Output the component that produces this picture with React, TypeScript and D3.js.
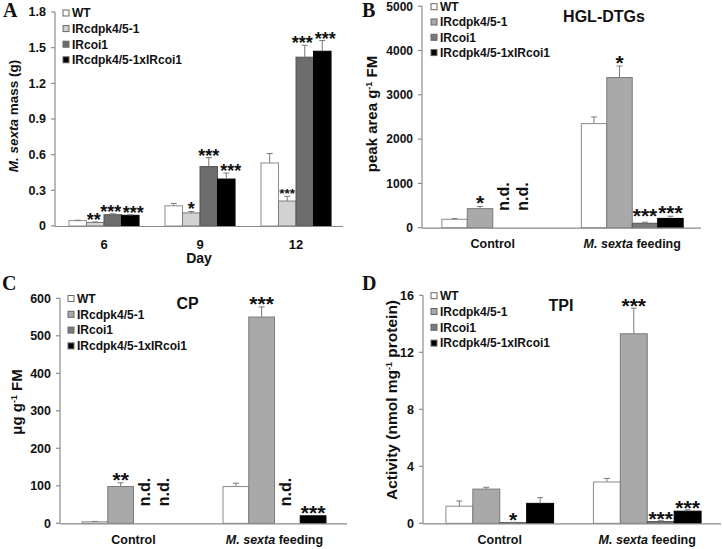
import React from 'react';
import * as d3 from 'd3';

// ---------- data ----------
const seriesNames = ['WT', 'IRcdpk4/5-1', 'IRcoi1', 'IRcdpk4/5-1xIRcoi1'];

// Panel A: larval mass (g) by day
const daysA = ['6', '9', '12'];
const massMean = [
  [0.045, 0.03, 0.095, 0.09],
  [0.17, 0.11, 0.5, 0.395],
  [0.53, 0.21, 1.42, 1.47],
];
const massErr = [
  [0.004, 0.004, 0.008, 0.005],
  [0.02, 0.012, 0.075, 0.05],
  [0.08, 0.04, 0.1, 0.09],
];
const massSig = [
  ['', '**', '***', '***'],
  ['', '*', '***', '***'],
  ['', '***', '***', '***'],
];
const ticksA = [0, 0.3, 0.6, 0.9, 1.2, 1.5, 1.8];

const treatments = ['Control', 'M. sexta feeding'];

// Panel B: HGL-DTGs
const hglMean = [
  [190, 430, 0, 0],
  [2350, 3390, 100, 210],
];
const hglErr = [
  [15, 50, 0, 0],
  [150, 260, 25, 50],
];
const hglSig = [
  ['', '*', 'n.d.', 'n.d.'],
  ['', '*', '***', '***'],
];
const ticksB = [0, 1000, 2000, 3000, 4000, 5000];

// Panel C: CP
const cpMean = [
  [4, 98, 0, 0],
  [98, 550, 0, 20],
];
const cpErr = [
  [1, 10, 0, 0],
  [9, 27, 0, 0],
];
const cpSig = [
  ['', '**', 'n.d.', 'n.d.'],
  ['', '***', 'n.d.', '***'],
];
const ticksC = [0, 100, 200, 300, 400, 500, 600];

// Panel D: TPI
const tpiMean = [
  [1.2, 2.4, 0.05, 1.4],
  [2.9, 13.3, 0.12, 0.85],
];
const tpiErr = [
  [0.37, 0.13, 0.02, 0.4],
  [0.25, 1.8, 0.06, 0.1],
];
const tpiSig = [
  ['', '', '*', ''],
  ['', '***', '***', '***'],
];
const ticksD = [0, 4, 8, 12, 16];

// ---------- styles ----------
const SANS = '"Liberation Sans", Arial, sans-serif';
const SERIF = '"Liberation Serif", "Times New Roman", serif';
const AXIS = '#8c8c8c';
const colorsA = ['#ffffff', '#d2d2d2', '#6c6c6c', '#000000'];
const colorsB = ['#ffffff', '#a9a9a9', '#7a7a7a', '#000000'];
const strokes = ['#8c8c8c', '#7a7a7a', '#555555', '#000000'];

function CatLabel({ label, x, y, size }: any) {
  if (label.startsWith('M. sexta')) {
    return (
      <text x={x} y={y} textAnchor="middle" fontFamily={SANS} fontWeight="bold" fontSize={size} fill="#111">
        <tspan fontStyle="italic">M. sexta</tspan>
        <tspan>{label.slice(8)}</tspan>
      </text>
    );
  }
  return (
    <text x={x} y={y} textAnchor="middle" fontFamily={SANS} fontWeight="bold" fontSize={size} fill="#111">
      {label}
    </text>
  );
}

function Panel({ cfg }: any) {
  const x = d3.scaleBand<string>().domain(cfg.groups).range([cfg.bandL, cfg.bandR]);
  const y = d3.scaleLinear().domain([cfg.ticks[0], cfg.ticks[cfg.ticks.length - 1]]).range([cfg.yBottom, cfg.yTop]);
  const gw = x.step() * 0.73;
  const inner = d3.scaleBand<string>().domain(seriesNames).range([-gw / 2, gw / 2]);
  const bw = inner.bandwidth();
  const fmt = cfg.fmt;

  return (
    <g>
      <text x={cfg.letterX} y={cfg.letterY} fontFamily={SERIF} fontWeight="bold" fontSize={20} fill="#111">
        {cfg.letter}
      </text>
      <line x1={cfg.axisL} x2={cfg.axisL} y1={y(cfg.ticks[0]) + 0.5} y2={y(cfg.ticks[cfg.ticks.length - 1])} stroke={AXIS} strokeWidth={1.2} />
      {cfg.ticks.map((t: number) => (
        <g key={t}>
          <line x1={cfg.axisL - 4} x2={cfg.axisL} y1={y(t)} y2={y(t)} stroke={AXIS} strokeWidth={1.2} />
          <text x={cfg.axisL - 9} y={y(t) + 4.3} textAnchor="end" fontFamily={SANS} fontWeight="bold" fontSize={cfg.tickSize} fill="#111">
            {fmt(t)}
          </text>
        </g>
      ))}
      {cfg.groups.map((g: string, gi: number) => {
        const cx = (x(g) as number) + x.step() / 2;
        return (
          <g key={g}>
            {seriesNames.map((s, si) => {
              const v = cfg.mean[gi][si];
              const e = cfg.err[gi][si];
              const sig = cfg.sig[gi][si];
              const bx = cx + (inner(s) as number);
              const top = y(v);
              const errTop = y(v + e);
              const scx = bx + bw / 2;
              const nudge = cfg.nudge ? cfg.nudge[gi][si] : 0;
              const small = cfg.small && cfg.small[gi][si];
              return (
                <g key={s}>
                  {v > 0 && (
                    <rect x={bx} y={top} width={bw} height={y(0) - top} fill={cfg.colors[si]} stroke={strokes[si]} strokeWidth={1} />
                  )}
                  {e > 0 && (
                    <g stroke="#7a7a7a" strokeWidth={1}>
                      <line x1={scx} x2={scx} y1={top} y2={errTop} />
                      <line x1={scx - 3} x2={scx + 3} y1={errTop} y2={errTop} />
                    </g>
                  )}
                  {sig === 'n.d.' && (
                    <text
                      transform={`translate(${scx + 4 + (si === 3 && cfg.sig[gi][2] === 'n.d.' ? -7 : 0)},${y(0) - 17}) rotate(-90)`}
                      fontFamily={SANS}
                      fontWeight="bold"
                      fontSize={16}
                      fill="#111"
                    >
                      n.d.
                    </text>
                  )}
                  {sig && sig !== 'n.d.' && (
                    <text
                      x={scx + nudge}
                      y={errTop + (small ? 2 : cfg.starDy) - (cfg.raise ? cfg.raise[gi][si] : 0)}
                      textAnchor="middle"
                      fontFamily={SANS}
                      fontWeight="bold"
                      fontSize={small ? 13.5 : cfg.starSize}
                      fill="#111"
                    >
                      {sig}
                    </text>
                  )}
                </g>
              );
            })}
            <CatLabel label={g} x={cx} y={cfg.catY} size={cfg.catSize} />
          </g>
        );
      })}
      <line x1={cfg.axisL} x2={cfg.axisR} y1={y(0) + 0.5} y2={y(0) + 0.5} stroke={AXIS} strokeWidth={1.2} />
      {cfg.xTitle && (
        <text x={(cfg.axisL + cfg.axisR) / 2} y={cfg.xTitleY} textAnchor="middle" fontFamily={SANS} fontWeight="bold" fontSize={14} fill="#111">
          {cfg.xTitle}
        </text>
      )}
      <text
        transform={`translate(${cfg.yTitleX},${cfg.yTitleY}) rotate(-90)`}
        textAnchor="middle"
        fontFamily={SANS}
        fontWeight="bold"
        fontSize={cfg.yTitleSize}
        fill="#111"
      >
        {cfg.yTitle}
      </text>
      {cfg.title && (
        <text x={cfg.titleX} y={cfg.titleY} textAnchor="middle" fontFamily={SANS} fontWeight="bold" fontSize={16} fill="#111">
          {cfg.title}
        </text>
      )}
      {seriesNames.map((s, si) => {
        const ry = cfg.legY + si * cfg.legStep;
        return (
          <g key={s}>
            <rect x={cfg.legX} y={ry - 3} width={6} height={6} fill={cfg.colors[si]} stroke="#666" strokeWidth={1} />
            <text x={cfg.legX + 9} y={ry + 4.3} fontFamily={SANS} fontWeight="bold" fontSize={12} fill="#111">
              {s}
            </text>
          </g>
        );
      })}
    </g>
  );
}

const sup = (before: string, after: string) => (
  <>
    <tspan>{before}</tspan>
    <tspan dy={-5} fontSize={9}>-1</tspan>
    <tspan dy={5}>{after}</tspan>
  </>
);

export default function App() {
  const panels = [
    {
      letter: 'A', letterX: 3, letterY: 17,
      groups: daysA, mean: massMean, err: massErr, sig: massSig, ticks: ticksA,
      fmt: (t: number) => (t === 0 ? '0' : t.toFixed(1)),
      axisL: 55, axisR: 343, bandL: 56, bandR: 344, yBottom: 226, yTop: 12,
      colors: colorsA, tickSize: 12.5, catSize: 13, catY: 248.5,
      xTitle: 'Day', xTitleY: 263,
      yTitle: (<><tspan fontStyle="italic">M. sexta</tspan><tspan> mass (g)</tspan></>),
      yTitleX: 18, yTitleY: 116, yTitleSize: 13.5,
      legX: 63, legY: 13, legStep: 15.6,
      starSize: 18, starDy: 4,
      small: [[false, false, false, false], [false, false, false, false], [false, true, false, false]],
      nudge: [[0, -1.5, -2, 3], [0, 0, 0, 4.5], [0, 0, -2.5, 3]],
    },
    {
      letter: 'B', letterX: 362, letterY: 17,
      groups: treatments, mean: hglMean, err: hglErr, sig: hglSig, ticks: ticksB,
      fmt: (t: number) => String(t),
      axisL: 422, axisR: 701, bandL: 423, bandR: 702, yBottom: 227.7, yTop: 6.2,
      colors: colorsB, tickSize: 12, catSize: 12.5, catY: 247.5,
      yTitle: sup('peak area g', ' FM'),
      yTitleX: 377, yTitleY: 114, yTitleSize: 15,
      title: 'HGL-DTGs', titleX: 604, titleY: 21.5,
      legX: 431, legY: 6.7, legStep: 15.3,
      starSize: 21, starDy: 4,
      raise: [[0, 0, 0, 0], [0, 0, 3, 0]],
    },
    {
      letter: 'C', letterX: 2, letterY: 290,
      groups: treatments, mean: cpMean, err: cpErr, sig: cpSig, ticks: ticksC,
      fmt: (t: number) => String(t),
      axisL: 60, axisR: 347, bandL: 63, bandR: 345, yBottom: 523.3, yTop: 298.3,
      colors: colorsB, tickSize: 12.5, catSize: 12.5, catY: 543.5,
      yTitle: sup('μg g', ' FM'),
      yTitleX: 22, yTitleY: 402, yTitleSize: 15,
      title: 'CP', titleX: 187.5, titleY: 309,
      legX: 68, legY: 298.5, legStep: 15.8,
      starSize: 21, starDy: 4.5,
    },
    {
      letter: 'D', letterX: 362, letterY: 290,
      groups: treatments, mean: tpiMean, err: tpiErr, sig: tpiSig, ticks: ticksD,
      fmt: (t: number) => String(t),
      axisL: 423, axisR: 721, bandL: 426, bandR: 721, yBottom: 523.3, yTop: 295.3,
      colors: colorsB, tickSize: 12.5, catSize: 12.5, catY: 543.5,
      yTitle: sup('Activity (nmol mg', ' protein)'),
      yTitleX: 397, yTitleY: 400, yTitleSize: 15.5,
      title: 'TPI', titleX: 561, titleY: 311,
      legX: 431, legY: 295.7, legStep: 15.8,
      starSize: 21, starDy: 5,
    },
  ];

  return (
    <svg
      width={722}
      height={549}
      viewBox="0 0 722 549"
      style={{ position: 'absolute', left: 0, top: 0, background: '#fff' }}
    >
      <rect x={0} y={0} width={722} height={549} fill="#fff" />
      {panels.map((p) => (
        <Panel key={p.letter} cfg={p} />
      ))}
    </svg>
  );
}
